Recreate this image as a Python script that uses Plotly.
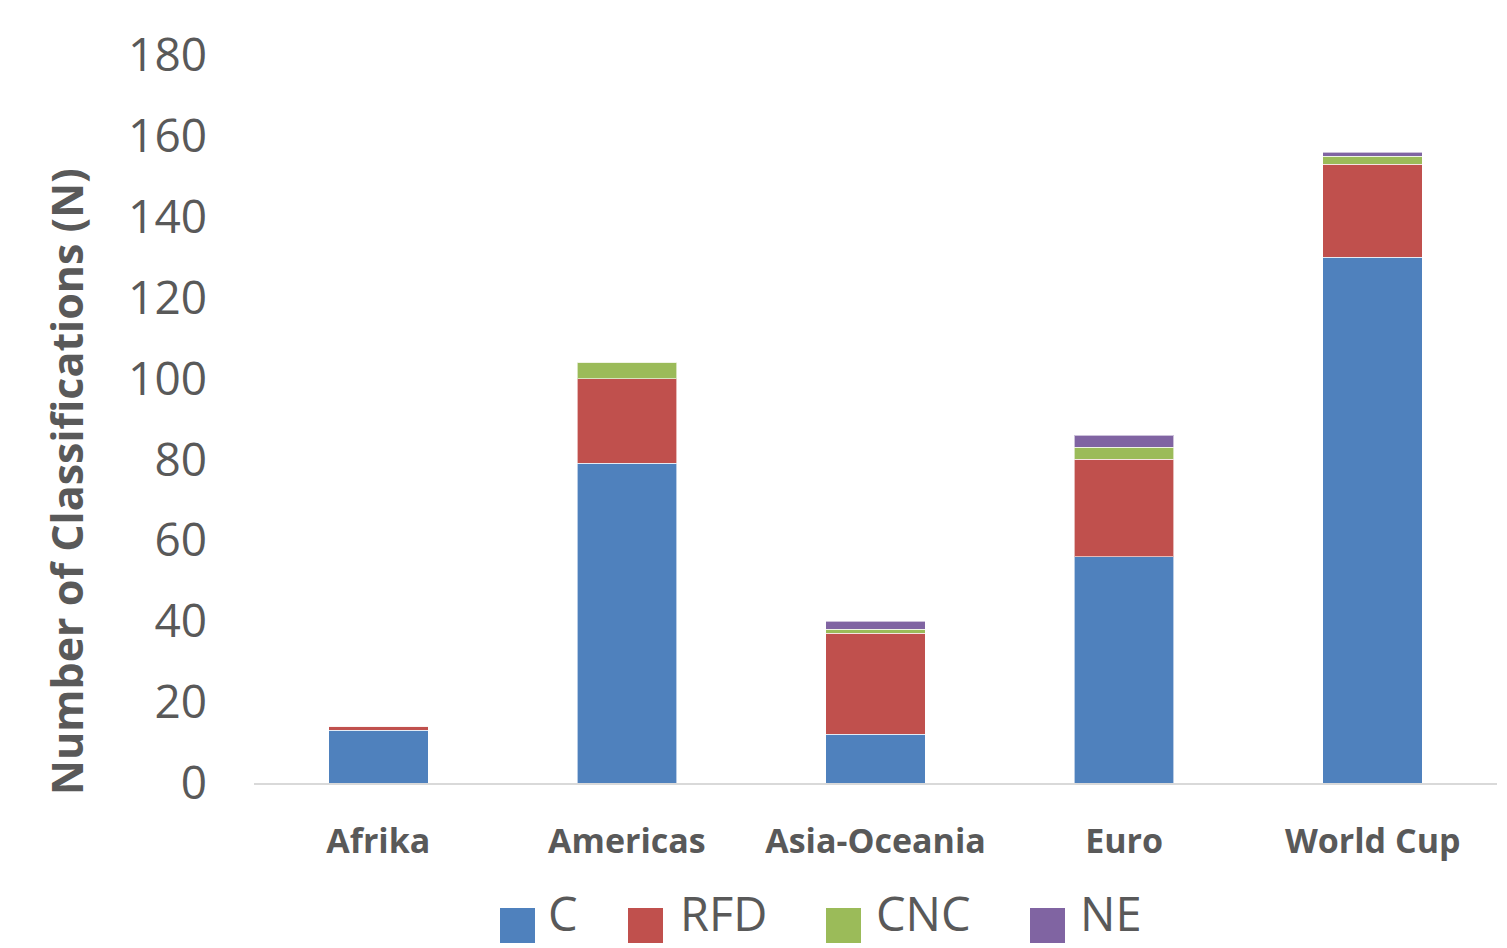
import plotly.graph_objects as go

categories = ["Afrika", "Americas", "Asia-Oceania", "Euro", "World Cup"]
series_names = ["C", "RFD", "CNC", "NE"]
c_vals = [13, 79, 12, 56, 130]
rfd_vals = [1, 21, 25, 24, 23]
cnc_vals = [0, 4, 1, 3, 2]
ne_vals = [0, 0, 2, 3, 1]
y_ticks = [0, 20, 40, 60, 80, 100, 120, 140, 160, 180]

colors = ["#4F81BD", "#C0504D", "#9BBB59", "#8064A2"]
values = [c_vals, rfd_vals, cnc_vals, ne_vals]

W, H = 1507, 948
L, R, T, B = 254, 10, 55, 165
FONT = "Open Sans"
TXT = "#595959"

fig = go.Figure()
for name, vals, col in zip(series_names, values, colors):
    fig.add_trace(go.Bar(
        x=categories, y=vals, name=name, marker_color=col,
        marker_line=dict(width=1, color="rgba(255,255,255,0.6)"),
        showlegend=False,
    ))

pw = W - L - R
ph = H - T - B

def px_x(p):
    return (p - L) / pw

def px_y(p):
    return (H - B - p) / ph

shapes = []
annotations = []
# custom legend
leg_sq = [(500, 535), (628, 663), (826, 861), (1030, 1065)]
leg_txt = [546, 678, 874, 1078]
for (x0, x1), tx, name, col in zip(leg_sq, leg_txt, series_names, colors):
    shapes.append(dict(type="rect", xref="paper", yref="paper",
                       x0=px_x(x0), x1=px_x(x1), y0=px_y(943), y1=px_y(908),
                       fillcolor=col, line_width=0))
    annotations.append(dict(text=name, xref="paper", yref="paper",
                            x=px_x(tx), y=px_y(947), xanchor="left", yanchor="bottom",
                            showarrow=False, font=dict(family=FONT, size=47, color=TXT)))

annotations.append(dict(text="<b>Number of Classifications (N)</b>", xref="paper", yref="paper",
                        x=px_x(67), y=px_y(481), xanchor="center", yanchor="middle",
                        textangle=-90, showarrow=False,
                        font=dict(family=FONT, size=43, color=TXT)))

fig.update_layout(
    width=W, height=H,
    margin=dict(l=L, r=R, t=T, b=B),
    barmode="stack", bargap=0.6,
    paper_bgcolor="white", plot_bgcolor="white",
    font=dict(family=FONT, color=TXT),
    shapes=shapes, annotations=annotations,
    xaxis=dict(showline=True, linecolor="#D9D9D9", linewidth=2,
               tickfont=dict(family=FONT, size=34, color=TXT),
               tickprefix="<b>", ticksuffix="</b>",
               ticks="", ticklabelstandoff=27),
    yaxis=dict(range=[0, 180], tickvals=y_ticks, showgrid=False, zeroline=False,
               tickfont=dict(family=FONT, size=46, color=TXT),
               ticks="", ticklabelstandoff=46),
)

fig.write_html("out.html")
